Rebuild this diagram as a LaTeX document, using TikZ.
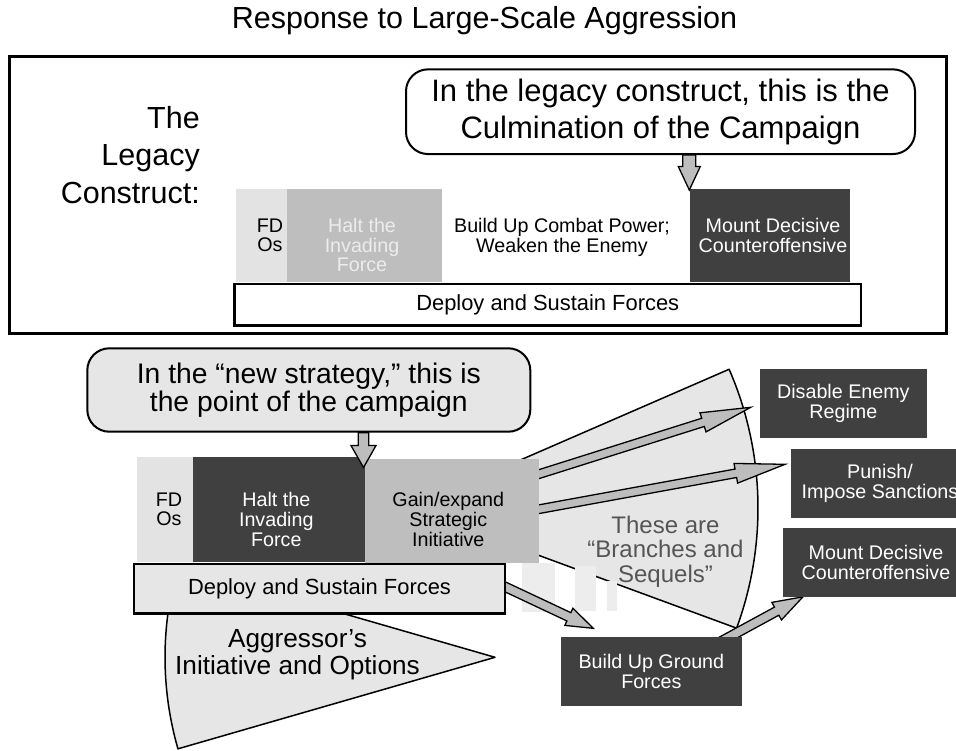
\documentclass[tikz,border=0pt]{standalone}
\usepackage{fontspec}
\setmainfont{Liberation Sans}
\usetikzlibrary{calc}

\definecolor{darkfill}{HTML}{404040}
\definecolor{midfill}{HTML}{BEBEBE}
\definecolor{lightfill}{HTML}{E3E3E3}
\definecolor{fanfill}{HTML}{E6E6E6}
\definecolor{stripefill}{HTML}{EDEDED}
\definecolor{arrowfill}{HTML}{BDBDBD}
\definecolor{halttext}{HTML}{ECECEC}
\definecolor{notegray}{HTML}{555555}

\pgfdeclarelayer{background}
\pgfsetlayers{background,main}

\newcommand{\boxfont}{\fontsize{19.7}{19.6}\selectfont}
% block arrow: from, to, half shaft, half head, head length
\newcommand{\fatarrow}[5]{%
  \coordinate (#2-base) at ($(#2)!#5!(#1)$);
  \draw[fatarr] ($(#1)!#3!90:(#2)$) -- ($(#2-base)!#3!90:(#2)$)
    -- ($(#2-base)!#4!90:(#2)$) -- (#2) -- ($(#2-base)!#4!-90:(#2)$)
    -- ($(#2-base)!#3!-90:(#2)$) -- ($(#1)!#3!-90:(#2)$) -- cycle;}

\tikzset{
  box/.style={rectangle, anchor=north west, inner sep=0pt, outer sep=0pt, font=\boxfont, align=center},
  darkbox/.style={box, fill=darkfill, text=white},
  midbox/.style={box, fill=midfill},
  lightbox/.style={box, fill=lightfill},
  deploybox/.style={box, draw, line width=2.5pt, font=\fontsize{21.9}{22}\selectfont},
  boxtext/.style={anchor=north, inner sep=0pt, font=\boxfont, align=center},
  callout/.style={rectangle, draw, line width=2pt, rounded corners=22pt, align=center, inner sep=0pt},
  fan/.style={draw, fill=fanfill, line width=1.5pt, line join=round},
  stripe/.style={fill=stripefill},
  fatarr/.style={draw, fill=arrowfill, line width=1.3pt, line join=miter},
}

\begin{document}
\begin{tikzpicture}[x=1pt, y=-1pt]
    \useasboundingbox (0,0) rectangle (956,750);
    \clip (0,0) rectangle (956,750);

    % Title
    \node[anchor=base, inner sep=0pt, font=\fontsize{30.5}{36}\selectfont] (title) at (484.5,28.3) {Response to Large-Scale Aggression};

    % Legacy construct
    \draw[line width=3pt] (9,56.7) rectangle (946.5,333.3);
    \node[anchor=north east, inner sep=0pt, align=right, font=\fontsize{30.5}{37.5}\selectfont] (legacy) at (200,106.1) {The\\Legacy\\Construct:};
    \node[callout, fill=white, minimum width=509, minimum height=84.7, font=\fontsize{31}{36.7}\selectfont] (callout1) at (660.5,111.7) {In the legacy construct, this is the\\Culmination of the Campaign};

    \node[lightbox, minimum width=51, minimum height=93] (fdo1) at (236,189) {};
    \node[midbox, minimum width=155, minimum height=93] (halt1) at (287,189) {};
    \node[darkbox, minimum width=160, minimum height=93] (mount1) at (690,189) {};
    \node[deploybox, fill=white, minimum width=626.5, minimum height=41.5] (deploy1) at (234.5,284) {Deploy and Sustain Forces};
    \node[boxtext] (fdo1-t) at (270,218.3) {FD\\Os};
    \node[boxtext, text=halttext] (halt1-t) at (362,218.3) {Halt the\\Invading\\Force};
    \node[boxtext] (build1-t) at (562,218.3) {Build Up Combat Power;\\Weaken the Enemy};
    \node[boxtext, text=white] (mount1-t) at (773,218.3) {Mount Decisive\\Counteroffensive};

    % New strategy
    \node[callout, fill=fanfill, minimum width=443, minimum height=83.4, font=\fontsize{28.3}{25}\selectfont] (callout2) at (308.8,390) {In the “new strategy,” this is\\the point of the campaign};

    \node[lightbox, minimum width=56, minimum height=104.7] (fdo2) at (136.7,457.3) {};
    \node[darkbox, minimum width=172.3, minimum height=104.7] (halt2) at (192.7,457.3) {};
    \node[midbox, minimum width=174, minimum height=104] (gain) at (365,459) {};
    \node[deploybox, fill=fanfill, minimum width=371, minimum height=49.3] (deploy2) at (134,564) {Deploy and Sustain Forces};
    \node[boxtext] (fdo2-t) at (169,492.5) {FD\\Os};
    \node[boxtext, text=white] (halt2-t) at (276.3,492.5) {Halt the\\Invading\\Force};
    \node[boxtext] (gain-t) at (448.3,492.5) {Gain/expand\\Strategic\\Initiative};

    % Branches and sequels
    \node[darkbox, minimum width=166.7, minimum height=68.4] (disable) at (760,369.3) {Disable Enemy\\Regime};
    \node[darkbox, minimum width=178, minimum height=68.4] (punish) at (791,449.3) {Punish/\\Impose Sanctions};
    \node[darkbox, minimum width=186, minimum height=68.4] (mount2) at (783,528.3) {Mount Decisive\\Counteroffensive};
    \node[darkbox, minimum width=180.7, minimum height=68.4] (build2) at (561,637.3) {Build Up Ground\\Forces};
    \node[anchor=north, inner sep=0pt, align=center, text=notegray, font=\fontsize{24}{24.3}\selectfont] (branches) at (665.5,516) {These are\\“Branches and\\Sequels”};
    \node[anchor=north, inner sep=0pt, align=center, font=\fontsize{26.2}{27}\selectfont] (aggressor) at (297.5,629) {Aggressor’s\\Initiative and Options};

    \begin{pgfonlayer}{background}
        % Fans
        \draw[fan] (495,657.3) -- ++(163.9:330) arc[start angle=163.9, end angle=196.1, radius=330] -- cycle;
        \draw[fan] (410,508) -- ++(-23.5:348) arc[start angle=-23.5, end angle=20.2, radius=348] -- cycle;
        \fill[stripe] (522.3,563) rectangle (555,612.3);
        \fill[stripe] (575,566) rectangle (596,611);
        \fill[stripe] (607.3,581) rectangle (616.7,611);
        % Arrows out of the row
        \coordinate (a1s) at ($(gain.north east)+(-11,18.6)$);
        \coordinate (a1t) at ($(disable.west)+(-9.3,3.8)$);
        \coordinate (a2s) at ($(gain.north east)+(-11,52.2)$);
        \coordinate (a2t) at ($(punish.west)+(-6,-19.2)$);
        \coordinate (a3s) at ($(deploy2.east)+(-10,-6.6)$);
        \coordinate (a3t) at ($(build2.north west)+(32.3,-9)$);
        \coordinate (a4s) at ($(build2.north east)+(-21.7,4.7)$);
        \coordinate (a4t) at ($(mount2.south west)+(20,0.1)$);
        \fatarrow{a1s}{a1t}{4.3pt}{10pt}{50pt}
        \fatarrow{a2s}{a2t}{4.3pt}{10pt}{50pt}
        \fatarrow{a3s}{a3t}{4.6pt}{9.5pt}{27pt}
        \fatarrow{a4s}{a4t}{4.6pt}{10pt}{30pt}
    \end{pgfonlayer}

    % Callout arrows
    \coordinate (d1t) at ($(mount1.north west)+(-0.7,1)$);
    \coordinate (d1s) at (callout1.south -| d1t);
    \coordinate (d2t) at ($(gain.north west)+(-1.5,8.5)$);
    \coordinate (d2s) at (callout2.south -| d2t);
    \fatarrow{d1s}{d1t}{6.5pt}{11pt}{23.5pt}
    \fatarrow{d2s}{d2t}{5.3pt}{12.5pt}{22pt}
\end{tikzpicture}
\end{document}
